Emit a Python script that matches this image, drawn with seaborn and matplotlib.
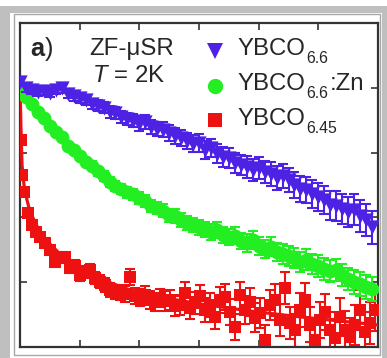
import numpy as np
import pandas as pd
import matplotlib
matplotlib.use("Agg")
import matplotlib.pyplot as plt
import seaborn as sns
from matplotlib.patches import Rectangle

# ---------------- data ----------------
t_grid = [0.0, 0.1, 0.2, 0.3, 0.4, 0.5, 0.6, 0.7, 0.8, 0.9,
          1.0, 1.1, 1.2, 1.3, 1.4, 1.5, 1.6, 1.7, 1.8, 1.9,
          2.0, 2.1, 2.2, 2.3, 2.4, 2.5, 2.6, 2.7, 2.8, 2.9,
          3.0, 3.1, 3.2, 3.3, 3.4, 3.5, 3.6, 3.7, 3.8, 3.9,
          4.0, 4.1, 4.2, 4.3, 4.4, 4.5, 4.6, 4.7, 4.8, 4.9,
          5.0, 5.1, 5.2, 5.3, 5.4, 5.5, 5.6, 5.7, 5.8, 5.9]

blue_y = [0.818, 0.799, 0.793, 0.787, 0.790, 0.784, 0.793, 0.799, 0.781, 0.775,
          0.769, 0.762, 0.750, 0.744, 0.738, 0.725, 0.722, 0.710, 0.704, 0.698,
          0.688, 0.694, 0.679, 0.673, 0.670, 0.660, 0.651, 0.645, 0.636, 0.627,
          0.630, 0.608, 0.614, 0.596, 0.586, 0.583, 0.568, 0.562, 0.556, 0.546,
          0.552, 0.540, 0.534, 0.522, 0.528, 0.515, 0.500, 0.488, 0.485, 0.472,
          0.463, 0.454, 0.438, 0.435, 0.426, 0.417, 0.423, 0.404, 0.392, 0.370]
blue_err = [0.010, 0.011, 0.011, 0.012, 0.012, 0.013, 0.013, 0.014, 0.014, 0.015,
            0.015, 0.016, 0.016, 0.017, 0.017, 0.018, 0.018, 0.019, 0.019, 0.020,
            0.021, 0.021, 0.022, 0.022, 0.023, 0.024, 0.024, 0.025, 0.026, 0.026,
            0.027, 0.028, 0.028, 0.029, 0.030, 0.031, 0.031, 0.032, 0.033, 0.034,
            0.034, 0.035, 0.036, 0.037, 0.038, 0.038, 0.039, 0.040, 0.041, 0.042,
            0.043, 0.044, 0.045, 0.045, 0.046, 0.047, 0.048, 0.049, 0.050, 0.051]

green_y = [0.802, 0.772, 0.750, 0.725, 0.707, 0.682, 0.664, 0.648, 0.620, 0.608,
           0.590, 0.571, 0.559, 0.543, 0.528, 0.509, 0.497, 0.488, 0.478, 0.472,
           0.460, 0.451, 0.435, 0.429, 0.420, 0.407, 0.404, 0.392, 0.383, 0.377,
           0.370, 0.364, 0.355, 0.361, 0.346, 0.340, 0.343, 0.327, 0.321, 0.330,
           0.312, 0.302, 0.309, 0.293, 0.287, 0.281, 0.275, 0.262, 0.269, 0.256,
           0.250, 0.241, 0.235, 0.238, 0.222, 0.210, 0.201, 0.194, 0.185, 0.179]
green_err = [0.008, 0.008, 0.009, 0.009, 0.010, 0.010, 0.011, 0.011, 0.012, 0.012,
             0.013, 0.013, 0.014, 0.014, 0.015, 0.015, 0.016, 0.016, 0.017, 0.017,
             0.018, 0.018, 0.019, 0.019, 0.020, 0.020, 0.021, 0.021, 0.022, 0.022,
             0.023, 0.023, 0.024, 0.024, 0.025, 0.025, 0.026, 0.026, 0.027, 0.027,
             0.028, 0.028, 0.029, 0.029, 0.030, 0.030, 0.031, 0.031, 0.032, 0.032,
             0.033, 0.033, 0.034, 0.034, 0.035, 0.035, 0.036, 0.036, 0.037, 0.037]

red_t = [0.000, 0.017, 0.034, 0.067, 0.134, 0.201, 0.268, 0.335, 0.419, 0.503,
         0.587, 0.670, 0.754, 0.838, 0.922, 1.006, 1.089, 1.173, 1.257, 1.341,
         1.425, 1.508, 1.592, 1.676, 1.760, 1.843, 1.927, 2.011, 2.095, 2.179,
         2.262, 2.346, 2.430, 2.514, 2.598, 2.681, 2.765, 2.849, 2.933, 3.017,
         3.100, 3.184, 3.268, 3.352, 3.436, 3.519, 3.603, 3.687, 3.771, 3.855,
         3.938, 4.022, 4.106, 4.190, 4.274, 4.357, 4.441, 4.525, 4.609, 4.693,
         4.776, 4.860, 4.944, 5.028, 5.111, 5.195, 5.279, 5.363, 5.447, 5.530,
         5.614, 5.698, 5.782, 5.866, 5.950]
red_y = [0.799, 0.639, 0.531, 0.478, 0.414, 0.377, 0.355, 0.340, 0.321, 0.299,
         0.262, 0.275, 0.278, 0.244, 0.250, 0.222, 0.231, 0.238, 0.213, 0.201,
         0.191, 0.176, 0.170, 0.167, 0.164, 0.216, 0.157, 0.154, 0.160, 0.145,
         0.139, 0.151, 0.142, 0.145, 0.127, 0.130, 0.167, 0.120, 0.136, 0.157,
         0.114, 0.130, 0.093, 0.145, 0.154, 0.108, 0.062, 0.160, 0.114, 0.139,
         0.090, 0.105, 0.022, 0.130, 0.145, 0.083, 0.182, 0.074, 0.052, 0.114,
         0.145, 0.068, 0.022, 0.083, 0.108, 0.052, 0.028, 0.093, 0.052, 0.031,
         0.068, 0.114, 0.046, 0.074, 0.114]
red_err = [0.010, 0.010, 0.011, 0.011, 0.012, 0.012, 0.013, 0.013, 0.014, 0.014,
           0.015, 0.015, 0.016, 0.016, 0.017, 0.018, 0.018, 0.019, 0.020, 0.020,
           0.021, 0.022, 0.022, 0.023, 0.024, 0.025, 0.025, 0.026, 0.027, 0.028,
           0.028, 0.029, 0.030, 0.031, 0.031, 0.032, 0.033, 0.034, 0.035, 0.035,
           0.036, 0.037, 0.038, 0.039, 0.040, 0.040, 0.041, 0.042, 0.043, 0.044,
           0.045, 0.045, 0.046, 0.047, 0.048, 0.049, 0.050, 0.050, 0.051, 0.052,
           0.053, 0.054, 0.055, 0.055, 0.056, 0.057, 0.058, 0.059, 0.060, 0.060,
           0.061, 0.062, 0.063, 0.064, 0.065]

red_fit_t = [0.0, 0.017, 0.034, 0.067, 0.117, 0.168, 0.335, 0.503, 0.670, 1.006,
             1.341, 1.843, 2.346, 3.017, 3.855, 4.693, 6.0]
red_fit_y = [0.809, 0.670, 0.562, 0.500, 0.454, 0.417, 0.355, 0.318, 0.287, 0.244,
             0.210, 0.176, 0.154, 0.133, 0.111, 0.093, 0.068]

label_main = ["YBCO", "YBCO", "YBCO"]
label_sub = ["6.6", "6.6", "6.45"]
label_tail = ["", ":Zn", ""]
markers = ["v", "o", "s"]
colors = ["#4d22e4", "#22ee22", "#ee1111"]

# ---------------- style ----------------
sns.set_style("ticks")
plt.rcParams["font.family"] = ["Liberation Sans", "DejaVu Sans"]
plt.rcParams["mathtext.fontset"] = "custom"
plt.rcParams["mathtext.rm"] = "Liberation Sans"
plt.rcParams["mathtext.it"] = "Liberation Sans:italic"
plt.rcParams["mathtext.bf"] = "Liberation Sans:bold"

W, H = 387, 358
fig = plt.figure(figsize=(W / 100, H / 100), dpi=100)
fig.patch.set_facecolor("white")
fig.patches.append(Rectangle((0, 0), 1, (H - 6) / H, transform=fig.transFigure,
                             facecolor="#bfbfbf", edgecolor="none", zorder=-3))
fig.patches.append(Rectangle((10 / W, 0), 372 / W, (H - 13) / H, transform=fig.transFigure,
                             facecolor="white", edgecolor="none", zorder=-2))
fig.patches.append(Rectangle((13.5 / W, 3 / H), 366.5 / W, 341 / H, transform=fig.transFigure,
                             facecolor="none", edgecolor="#a8a8a8", lw=1.0, zorder=-1))

ax = fig.add_axes([20 / W, 11 / H, 358 / W, 324 / H])
ax.set_facecolor("white")

ekw = dict(fmt="none", elinewidth=1.5, capsize=3.4, capthick=1.5)
# red
ax.errorbar(red_t, red_y, yerr=red_err, ecolor=colors[2], zorder=2, **ekw)
sns.lineplot(x=red_fit_t, y=red_fit_y, color=colors[2], lw=2.3, ax=ax, zorder=3)
sns.scatterplot(x=red_t, y=red_y, marker="s", s=80, color=colors[2],
                linewidth=0, ax=ax, zorder=3)
# green
ax.errorbar(t_grid, green_y, yerr=green_err, ecolor=colors[1], zorder=4, **ekw)
sns.scatterplot(x=t_grid, y=green_y, marker="o", s=100, color=colors[1],
                linewidth=0, ax=ax, zorder=5)
# blue
ax.errorbar(t_grid, blue_y, yerr=blue_err, ecolor=colors[0], zorder=6, **ekw)
sns.scatterplot(x=t_grid, y=blue_y, marker="v", s=105, color=colors[0],
                linewidth=0, ax=ax, zorder=7)

ax.set_xlim(0, 6)
ax.set_ylim(0, 1)
ax.set_xticks([0, 1, 2, 3, 4, 5, 6])
ax.set_yticks([0, 0.2, 0.4, 0.6, 0.8, 1.0])
ax.tick_params(direction="in", length=5, width=1.2, top=True, right=True,
               labelbottom=False, labelleft=False, color="#333333")
for sp in ax.spines.values():
    sp.set_color("#333333")
    sp.set_linewidth(1.6)
ax.set_xlabel("")
ax.set_ylabel("")


def axpos(px, py):
    """pixel position in the original picture -> axes fraction"""
    return (px - 20) / 358, (347 - py) / 324


fs = 17.3
fig.canvas.draw()
renderer = fig.canvas.get_renderer()


def right_edge(t):
    ext = t.get_window_extent(renderer)
    return ax.transAxes.inverted().transform((ext.x1, 0))[0]


x, y = axpos(30, 56)
ta = ax.text(x, y, "a", fontsize=fs + 1, fontweight="bold", transform=ax.transAxes, va="baseline")
ax.text(right_edge(ta) + 0.003, y, ")", fontsize=fs + 1, transform=ax.transAxes, va="baseline")
x, y = axpos(89, 55)
ax.text(x, y, "ZF-μSR", fontsize=fs, transform=ax.transAxes, va="baseline")
x, y = axpos(92, 82)
ax.text(x, y, r"$\mathit{T}$ = 2K", fontsize=fs, transform=ax.transAxes, va="baseline")

marker_py = [51, 86, 120]
base_py = [55, 90, 125]
msizes = [12, 11, 10.5]
for i in range(3):
    mx, my = axpos(215, marker_py[i])
    ax.plot([mx], [my], ls="none", marker=markers[i], ms=msizes[i], color=colors[i],
            mew=0, transform=ax.transAxes, clip_on=False, zorder=10)
    tx, ty = axpos(237, base_py[i])
    tm = ax.text(tx, ty, label_main[i], fontsize=fs, transform=ax.transAxes, va="baseline")
    sx = right_edge(tm) + 0.005
    ts = ax.text(sx, ty - 8 / 324, label_sub[i], fontsize=fs * 0.66,
                 transform=ax.transAxes, va="baseline")
    if label_tail[i]:
        ax.text(right_edge(ts) + 0.002, ty, label_tail[i], fontsize=fs,
                transform=ax.transAxes, va="baseline")

fig.savefig("out.png", dpi=100)
